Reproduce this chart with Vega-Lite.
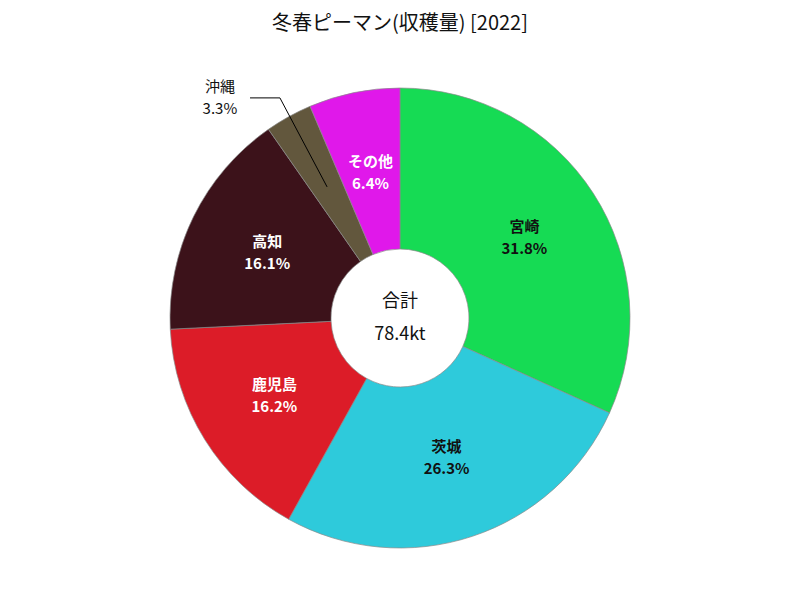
{
  "$schema": "https://vega.github.io/schema/vega-lite/v6.json",
  "width": 800,
  "height": 556,
  "autosize": "none",
  "padding": {"top": 40, "left": 0, "right": 0, "bottom": 4},
  "background": "white",
  "title": {"text": "冬春ピーマン(収穫量) [2022]", "fontSize": 20, "font": "Noto Sans CJK JP", "fontWeight": "normal", "color": "#111", "anchor": "middle", "offset": 6},
  "config": {"view": {"stroke": null}, "font": "Noto Sans CJK JP"},
  "datasets": {
    "slices": [
      {"pref": "宮崎", "pct": 31.8, "order": 1},
      {"pref": "茨城", "pct": 26.3, "order": 2},
      {"pref": "鹿児島", "pct": 16.2, "order": 3},
      {"pref": "高知", "pct": 16.1, "order": 4},
      {"pref": "沖縄", "pct": 3.3, "order": 5},
      {"pref": "その他", "pct": 6.4, "order": 6}
    ],
    "leader": [
      {"x": -0.652, "y": 0.957, "o": 1},
      {"x": -0.522, "y": 0.957, "o": 2},
      {"x": -0.317, "y": 0.57, "o": 3}
    ],
    "outer": [
      {"x": -0.783, "y": 0.957, "line1": "沖縄", "line2": "3.3%"}
    ],
    "center": [
      {"x": 0, "y": 0, "line1": "合計", "line2": "78.4kt"}
    ]
  },
  "layer": [
    {
      "data": {"name": "slices"},
      "mark": {"type": "arc", "outerRadius": 230, "innerRadius": 69, "stroke": "#8a8a8a", "strokeWidth": 0.7},
      "encoding": {
        "theta": {"field": "pct", "type": "quantitative", "stack": true},
        "order": {"field": "order", "type": "quantitative"},
        "color": {
          "field": "pref", "type": "nominal", "legend": null,
          "scale": {
            "domain": ["宮崎", "茨城", "鹿児島", "高知", "沖縄", "その他"],
            "range": ["#16DB54", "#2ECADB", "#DC1C28", "#3C121A", "#62573D", "#E018EA"]
          }
        }
      }
    },
    {
      "data": {"name": "slices"},
      "transform": [
        {"calculate": "[datum.pref, format(datum.pct, '.1f') + '%']", "as": "label"}
      ],
      "mark": {"type": "text", "radius": 148, "dy": -11, "fontSize": 15, "fontWeight": "bold", "lineHeight": 22, "align": "center", "baseline": "middle"},
      "encoding": {
        "theta": {"field": "pct", "type": "quantitative", "stack": true},
        "order": {"field": "order", "type": "quantitative"},
        "text": {"field": "label"},
        "opacity": {"condition": {"test": "datum.pref === '沖縄'", "value": 0}, "value": 1},
        "color": {"condition": {"test": "datum.pref === '宮崎' || datum.pref === '茨城'", "value": "#111111"}, "value": "#ffffff"}
      }
    },
    {
      "data": {"name": "leader"},
      "mark": {"type": "line", "color": "#000", "strokeWidth": 1},
      "encoding": {
        "x": {"field": "x", "type": "quantitative", "scale": {"domain": [-1.739, 1.739]}, "axis": null},
        "y": {"field": "y", "type": "quantitative", "scale": {"domain": [-1.2087, 1.2087]}, "axis": null},
        "order": {"field": "o"}
      }
    },
    {
      "data": {"name": "outer"},
      "transform": [{"calculate": "[datum.line1, datum.line2]", "as": "label"}],
      "mark": {"type": "text", "dy": -11, "fontSize": 15, "lineHeight": 22, "align": "center", "baseline": "middle", "color": "#111"},
      "encoding": {
        "x": {"field": "x", "type": "quantitative", "scale": {"domain": [-1.739, 1.739]}, "axis": null},
        "y": {"field": "y", "type": "quantitative", "scale": {"domain": [-1.2087, 1.2087]}, "axis": null},
        "text": {"field": "label"}
      }
    },
    {
      "data": {"name": "center"},
      "transform": [{"calculate": "[datum.line1, datum.line2]", "as": "label"}],
      "mark": {"type": "text", "dy": -16, "fontSize": 18, "lineHeight": 33, "align": "center", "baseline": "middle", "color": "#111"},
      "encoding": {
        "x": {"field": "x", "type": "quantitative", "scale": {"domain": [-1.739, 1.739]}, "axis": null},
        "y": {"field": "y", "type": "quantitative", "scale": {"domain": [-1.2087, 1.2087]}, "axis": null},
        "text": {"field": "label"}
      }
    }
  ]
}
